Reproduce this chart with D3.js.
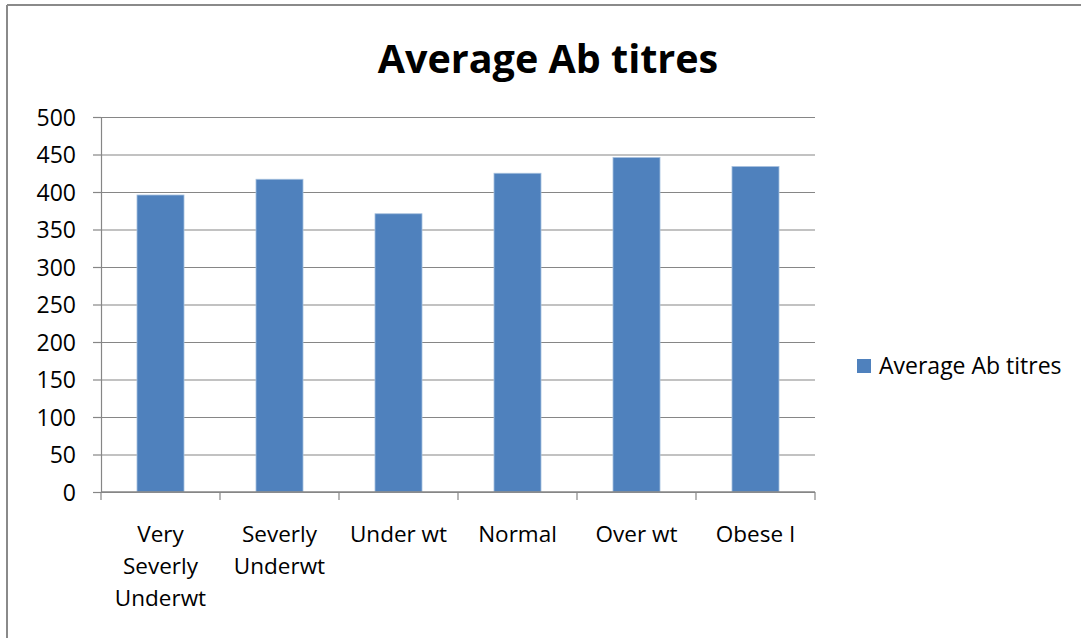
<!DOCTYPE html>
<html>
<head>
<meta charset="utf-8">
<script src="https://cdn.jsdelivr.net/npm/d3@7"></script>
<style>
  html, body { margin: 0; padding: 0; background: #fff; }
  svg text { font-family: "Open Sans", sans-serif; fill: #000; }
</style>
</head>
<body>
<div id="chart"></div>
<script>
// Average antibody titres per weight class
const CATEGORIES = [
  ["Very", "Severly", "Underwt"],
  ["Severly", "Underwt"],
  ["Under wt"],
  ["Normal"],
  ["Over wt"],
  ["Obese I"]
];
const VALUES = [396, 417, 371, 425, 446, 434];
const Y_TICKS = [0, 50, 100, 150, 200, 250, 300, 350, 400, 450, 500];
const TITLE = "Average Ab titres";
const SERIES_NAME = "Average Ab titres";

const W = 1081, H = 638;
const plot = { left: 101, right: 815, top: 117, bottom: 492 };
const BAR_COLOR = "#4f81bd";
const GRID = "#868686";

const svg = d3.select("#chart").append("svg")
  .attr("width", W).attr("height", H);

// outer frame (only top and left edges are visible)
svg.append("line").attr("x1", 7).attr("x2", W).attr("y1", 5).attr("y2", 5)
  .attr("stroke", "#8a8a8a").attr("stroke-width", 2);
svg.append("line").attr("x1", 7).attr("x2", 7).attr("y1", 5).attr("y2", H)
  .attr("stroke", "#8a8a8a").attr("stroke-width", 2);

svg.append("text")
  .attr("x", 548).attr("y", 73)
  .attr("text-anchor", "middle")
  .style("font-size", "39.5px").style("font-weight", "bold")
  .text(TITLE);

const keys = CATEGORIES.map((d, i) => i);
const x = d3.scaleBand().domain(keys).range([plot.left, plot.right]).padding(0);
const y = d3.scaleLinear().domain([0, 500]).range([plot.bottom, plot.top]);

// horizontal gridlines
svg.append("g")
  .attr("transform", `translate(${plot.left},0)`)
  .call(d3.axisLeft(y).tickValues(Y_TICKS).tickSize(-(plot.right - plot.left)).tickFormat(""))
  .call(g => g.select(".domain").remove())
  .call(g => g.selectAll("line").attr("stroke", GRID).attr("stroke-width", 1.2));

// y axis
svg.append("g")
  .attr("transform", `translate(${plot.left},0)`)
  .call(d3.axisLeft(y).tickValues(Y_TICKS).tickSize(8).tickSizeOuter(0).tickPadding(17))
  .call(g => g.select(".domain").attr("stroke", GRID).attr("stroke-width", 1.2))
  .call(g => g.selectAll("line").attr("stroke", GRID).attr("stroke-width", 1.2))
  .call(g => g.selectAll("text").style("font-size", "23px").style("font-family", "'Open Sans', sans-serif").attr("dy", "0.36em"));

// bars
const barW = x.bandwidth() * 0.395;
svg.append("g").selectAll("rect")
  .data(VALUES).enter().append("rect")
  .attr("x", (d, i) => x(i) + (x.bandwidth() - barW) / 2)
  .attr("y", d => y(d))
  .attr("width", barW)
  .attr("height", d => y(0) - y(d))
  .attr("fill", BAR_COLOR)
  .attr("stroke", "#a7c0de").attr("stroke-width", 0.8);

// x axis line and tick marks between categories
svg.append("line")
  .attr("x1", plot.left).attr("x2", plot.right)
  .attr("y1", y(0)).attr("y2", y(0))
  .attr("stroke", GRID).attr("stroke-width", 1.4);
const bounds = keys.map(i => x(i)).concat([x.range()[1]]);
svg.append("g").selectAll("line")
  .data(bounds).enter().append("line")
  .attr("x1", d => d).attr("x2", d => d)
  .attr("y1", y(0)).attr("y2", y(0) + 8)
  .attr("stroke", GRID).attr("stroke-width", 1.2);

// category labels
const lab = svg.append("g").selectAll("text")
  .data(CATEGORIES).enter().append("text")
  .attr("text-anchor", "middle")
  .attr("x", (d, i) => x(i) + x.bandwidth() / 2)
  .attr("y", 542)
  .style("font-size", "22.5px");
lab.selectAll("tspan")
  .data(d => d).enter().append("tspan")
  .attr("x", function () { return d3.select(this.parentNode).attr("x"); })
  .attr("dy", (d, i) => i === 0 ? 0 : 32)
  .text(d => d);

// legend
const leg = svg.append("g").attr("transform", "translate(857,359)");
leg.append("rect").attr("width", 14).attr("height", 14).attr("fill", BAR_COLOR);
leg.append("text").attr("x", 22).attr("y", 15)
  .style("font-size", "23px").text(SERIES_NAME);
</script>
</body>
</html>
